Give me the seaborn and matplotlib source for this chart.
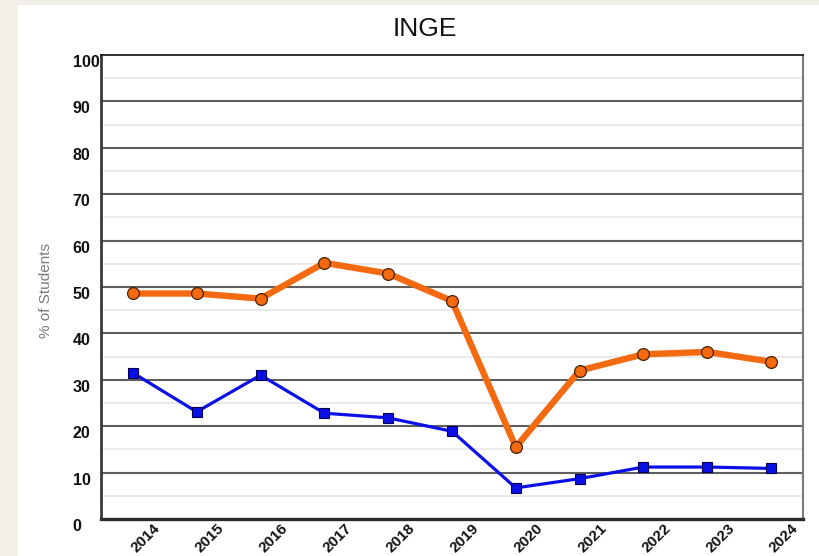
import matplotlib
matplotlib.use("Agg")
import matplotlib.pyplot as plt
import matplotlib.transforms as mtransforms
from matplotlib.patches import Rectangle
from matplotlib import font_manager
import seaborn as sns
import pandas as pd

years = [2014, 2015, 2016, 2017, 2018, 2019, 2020, 2021, 2022, 2023, 2024]
orange_series = [48.6, 48.6, 47.5, 55.2, 52.9, 47.0, 15.5, 32.0, 35.5, 36.0, 33.9]
blue_series = [31.5, 23.1, 31.0, 22.8, 21.8, 18.9, 6.7, 8.7, 11.2, 11.2, 10.9]
y_ticks = [0, 10, 20, 30, 40, 50, 60, 70, 80, 90, 100]

sns.set_theme(style="white")
plt.rcParams["font.family"] = ["Liberation Sans", "DejaVu Sans"]

installed = {f.name for f in font_manager.fontManager.ttflist}
title_family = ["Liberation Sans Narrow"] if "Liberation Sans Narrow" in installed else ["Liberation Sans"]

fig = plt.figure(figsize=(8.2, 5.56), dpi=100)
fig.patch.set_facecolor("white")
# beige frame strips along the left and top edges
fig.patches.append(Rectangle((0, 0), 18 / 820, 1, transform=fig.transFigure,
                             facecolor="#f2efe8", edgecolor="none", zorder=0))
fig.patches.append(Rectangle((0, 1 - 5 / 556), 1, 5 / 556, transform=fig.transFigure,
                             facecolor="#f2efe8", edgecolor="none", zorder=0))

ax = fig.add_axes([101 / 820, 1 - 519 / 556, (803 - 101) / 820, (519 - 55) / 556])
ax.set_facecolor("white")

df_orange = pd.DataFrame({"year": years, "pct": orange_series})
df_blue = pd.DataFrame({"year": years, "pct": blue_series})

sns.lineplot(data=df_orange, x="year", y="pct", ax=ax, color="#f36a10", linewidth=4.6,
             marker="o", markersize=8.5, markerfacecolor="#f36a10",
             markeredgecolor="#4a2100", markeredgewidth=0.9, zorder=4)
sns.lineplot(data=df_blue, x="year", y="pct", ax=ax, color="#0b10e6", linewidth=2.3,
             marker="s", markersize=7.5, markerfacecolor="#0b10e6",
             markeredgecolor="#00005a", markeredgewidth=0.8, zorder=4)

ax.set_xlim(2013.5, 2024.5)
ax.set_ylim(0, 100)

# horizontal grid: dark lines every 10, light lines between
for v in range(5, 100, 10):
    ax.axhline(v, color="#ebebeb", linewidth=1.4, zorder=1)
for v in range(10, 100, 10):
    ax.axhline(v, color="#5e5e5e", linewidth=1.5, zorder=2)

ax.set_yticks(y_ticks)
ax.set_yticklabels([str(t) for t in y_ticks], fontsize=11.5, fontweight="bold", color="#111111")
ax.tick_params(axis="y", length=0, pad=20.5)
for lbl in ax.get_yticklabels():
    lbl.set_horizontalalignment("left")
    lbl.set_verticalalignment("top")

ax.set_xticks(years)
ax.set_xticklabels([str(y) for y in years], fontsize=11, fontweight="bold",
                   color="#111111", rotation=45)
ax.tick_params(axis="x", direction="inout", length=6, width=1, color="#aaaaaa", pad=-1.5)
shift = mtransforms.ScaledTranslation(13 / 100, 0, fig.dpi_scale_trans)
for lbl in ax.get_xticklabels():
    lbl.set_horizontalalignment("center")
    lbl.set_verticalalignment("top")
    lbl.set_transform(lbl.get_transform() + shift)

ax.set_xlabel("")
ax.set_ylabel("")
fig.text(46 / 820, 1 - 290 / 556, "% of Students", rotation=90, ha="center", va="center",
         fontsize=11, color="#7a7a7a")
fig.text(425 / 820, 1 - 29 / 556, "INGE", ha="center", va="center",
         fontsize=19, color="#111111", family=title_family)

ax.spines["top"].set_color("#111111")
ax.spines["top"].set_linewidth(1.2)
ax.spines["right"].set_color("#7a7a7a")
ax.spines["right"].set_linewidth(1.5)
ax.spines["left"].set_color("#3a3a3a")
ax.spines["left"].set_linewidth(2.0)
ax.spines["bottom"].set_color("#2a2a2a")
ax.spines["bottom"].set_linewidth(2.4)
for s in ax.spines.values():
    s.set_zorder(5)

fig.savefig("out.png", dpi=100)
